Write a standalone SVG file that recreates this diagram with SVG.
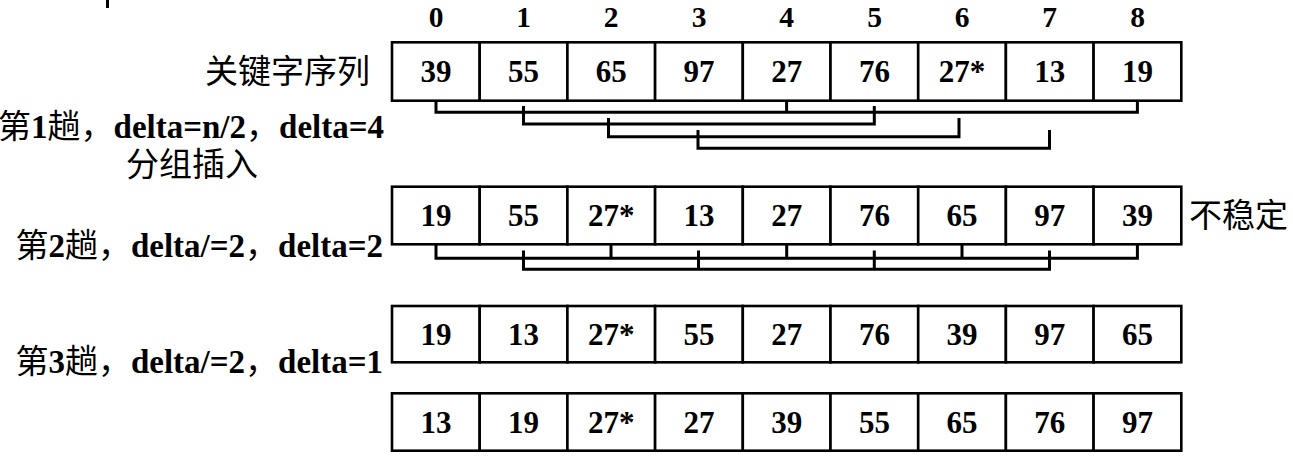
<svg xmlns="http://www.w3.org/2000/svg" width="1293" height="461" viewBox="0 0 1293 461">
<style>
.cell rect{fill:#fff;stroke:#000;stroke-width:2.6}
.num{font-family:"Liberation Serif","Times New Roman",serif;font-weight:bold;font-size:31px;text-anchor:middle;fill:#000}
.idx{font-family:"Liberation Serif","Times New Roman",serif;font-weight:bold;font-size:29.5px;text-anchor:middle;fill:#000}
.lbl{font-size:33px;fill:#000}
.cn{font-family:"Noto Sans CJK SC","Noto Sans CJK JP",sans-serif;font-weight:normal}
.b{font-family:"Liberation Serif","Times New Roman",serif;font-weight:bold}
.br{fill:none;stroke:#000;stroke-width:3;stroke-linejoin:miter;stroke-linecap:square}
</style>
<rect x="0" y="0" width="1293" height="461" fill="#fff"/>
<rect x="106" y="0" width="3" height="8" fill="#000"/>

<g id="indices">
<text class="idx" x="436" y="26.5">0</text>
<text class="idx" x="523.5" y="26.5">1</text>
<text class="idx" x="611" y="26.5">2</text>
<text class="idx" x="699" y="26.5">3</text>
<text class="idx" x="786.5" y="26.5">4</text>
<text class="idx" x="874.5" y="26.5">5</text>
<text class="idx" x="962" y="26.5">6</text>
<text class="idx" x="1049.5" y="26.5">7</text>
<text class="idx" x="1137.5" y="26.5">8</text>
</g>

<g id="labels">
<text class="lbl cn" x="370" y="83" text-anchor="end">关键字序列</text>
<text class="lbl"><tspan x="384" y="138" text-anchor="end"><tspan class="cn">第</tspan><tspan class="b">1</tspan><tspan class="cn">趟，</tspan><tspan class="b">delta=n/2</tspan><tspan class="cn">，</tspan><tspan class="b">delta=4</tspan></tspan><tspan class="cn" x="192" y="176" text-anchor="middle">分组插入</tspan></text>
<text class="lbl" x="383" y="257" text-anchor="end"><tspan class="cn">第</tspan><tspan class="b">2</tspan><tspan class="cn">趟，</tspan><tspan class="b">delta/=2</tspan><tspan class="cn">，</tspan><tspan class="b">delta=2</tspan></text>
<text class="lbl" x="383" y="373" text-anchor="end"><tspan class="cn">第</tspan><tspan class="b">3</tspan><tspan class="cn">趟，</tspan><tspan class="b">delta/=2</tspan><tspan class="cn">，</tspan><tspan class="b">delta=1</tspan></text>
<text class="lbl cn" x="1189" y="227">不稳定</text>
</g>

<g id="row1">
<g id="r1c0" class="cell"><rect x="392" y="42.3" width="87.7" height="58.4"/><text class="num" x="435.9" y="82">39</text></g>
<g id="r1c1" class="cell"><rect x="479.7" y="42.3" width="87.7" height="58.4"/><text class="num" x="523.6" y="82">55</text></g>
<g id="r1c2" class="cell"><rect x="567.4" y="42.3" width="87.7" height="58.4"/><text class="num" x="611.3" y="82">65</text></g>
<g id="r1c3" class="cell"><rect x="655.1" y="42.3" width="87.7" height="58.4"/><text class="num" x="699" y="82">97</text></g>
<g id="r1c4" class="cell"><rect x="742.8" y="42.3" width="87.7" height="58.4"/><text class="num" x="786.7" y="82">27</text></g>
<g id="r1c5" class="cell"><rect x="830.5" y="42.3" width="87.7" height="58.4"/><text class="num" x="874.4" y="82">76</text></g>
<g id="r1c6" class="cell"><rect x="918.2" y="42.3" width="87.7" height="58.4"/><text class="num" x="962.1" y="82">27*</text></g>
<g id="r1c7" class="cell"><rect x="1005.9" y="42.3" width="87.7" height="58.4"/><text class="num" x="1049.8" y="82">13</text></g>
<g id="r1c8" class="cell"><rect x="1093.6" y="42.3" width="87.7" height="58.4"/><text class="num" x="1137.5" y="82">19</text></g>
</g>

<g id="row2">
<g id="r2c0" class="cell"><rect x="392" y="186.7" width="87.7" height="57.6"/><text class="num" x="435.9" y="226">19</text></g>
<g id="r2c1" class="cell"><rect x="479.7" y="186.7" width="87.7" height="57.6"/><text class="num" x="523.6" y="226">55</text></g>
<g id="r2c2" class="cell"><rect x="567.4" y="186.7" width="87.7" height="57.6"/><text class="num" x="611.3" y="226">27*</text></g>
<g id="r2c3" class="cell"><rect x="655.1" y="186.7" width="87.7" height="57.6"/><text class="num" x="699" y="226">13</text></g>
<g id="r2c4" class="cell"><rect x="742.8" y="186.7" width="87.7" height="57.6"/><text class="num" x="786.7" y="226">27</text></g>
<g id="r2c5" class="cell"><rect x="830.5" y="186.7" width="87.7" height="57.6"/><text class="num" x="874.4" y="226">76</text></g>
<g id="r2c6" class="cell"><rect x="918.2" y="186.7" width="87.7" height="57.6"/><text class="num" x="962.1" y="226">65</text></g>
<g id="r2c7" class="cell"><rect x="1005.9" y="186.7" width="87.7" height="57.6"/><text class="num" x="1049.8" y="226">97</text></g>
<g id="r2c8" class="cell"><rect x="1093.6" y="186.7" width="87.7" height="57.6"/><text class="num" x="1137.5" y="226">39</text></g>
</g>

<g id="row3">
<g id="r3c0" class="cell"><rect x="392" y="306" width="87.7" height="56.3"/><text class="num" x="435.9" y="345">19</text></g>
<g id="r3c1" class="cell"><rect x="479.7" y="306" width="87.7" height="56.3"/><text class="num" x="523.6" y="345">13</text></g>
<g id="r3c2" class="cell"><rect x="567.4" y="306" width="87.7" height="56.3"/><text class="num" x="611.3" y="345">27*</text></g>
<g id="r3c3" class="cell"><rect x="655.1" y="306" width="87.7" height="56.3"/><text class="num" x="699" y="345">55</text></g>
<g id="r3c4" class="cell"><rect x="742.8" y="306" width="87.7" height="56.3"/><text class="num" x="786.7" y="345">27</text></g>
<g id="r3c5" class="cell"><rect x="830.5" y="306" width="87.7" height="56.3"/><text class="num" x="874.4" y="345">76</text></g>
<g id="r3c6" class="cell"><rect x="918.2" y="306" width="87.7" height="56.3"/><text class="num" x="962.1" y="345">39</text></g>
<g id="r3c7" class="cell"><rect x="1005.9" y="306" width="87.7" height="56.3"/><text class="num" x="1049.8" y="345">97</text></g>
<g id="r3c8" class="cell"><rect x="1093.6" y="306" width="87.7" height="56.3"/><text class="num" x="1137.5" y="345">65</text></g>
</g>

<g id="row4">
<g id="r4c0" class="cell"><rect x="392" y="393.3" width="87.7" height="57.4"/><text class="num" x="435.9" y="433">13</text></g>
<g id="r4c1" class="cell"><rect x="479.7" y="393.3" width="87.7" height="57.4"/><text class="num" x="523.6" y="433">19</text></g>
<g id="r4c2" class="cell"><rect x="567.4" y="393.3" width="87.7" height="57.4"/><text class="num" x="611.3" y="433">27*</text></g>
<g id="r4c3" class="cell"><rect x="655.1" y="393.3" width="87.7" height="57.4"/><text class="num" x="699" y="433">27</text></g>
<g id="r4c4" class="cell"><rect x="742.8" y="393.3" width="87.7" height="57.4"/><text class="num" x="786.7" y="433">39</text></g>
<g id="r4c5" class="cell"><rect x="830.5" y="393.3" width="87.7" height="57.4"/><text class="num" x="874.4" y="433">55</text></g>
<g id="r4c6" class="cell"><rect x="918.2" y="393.3" width="87.7" height="57.4"/><text class="num" x="962.1" y="433">65</text></g>
<g id="r4c7" class="cell"><rect x="1005.9" y="393.3" width="87.7" height="57.4"/><text class="num" x="1049.8" y="433">76</text></g>
<g id="r4c8" class="cell"><rect x="1093.6" y="393.3" width="87.7" height="57.4"/><text class="num" x="1137.5" y="433">97</text></g>
</g>

<g id="connectors">
<path class="br" d="M436,102 V112.3 H1137.4 V102 M786.6,102 V112.3"/>
<path class="br" d="M523.5,107.5 V124 H874.3 V107.5"/>
<path class="br" d="M608.5,119.5 V136.7 H959 V119.5"/>
<path class="br" d="M698,131.5 V148.3 H1049.5 V131.5"/>
<path class="br" d="M436,246 V258.3 H1137.4 V246 M611,246 V258.3 M786.7,246 V258.3 M962,246 V258.3"/>
<path class="br" d="M523.5,252 V269.3 H1049.5 V252 M698.5,252 V269.3 M874.3,252 V269.3"/>
</g>
</svg>
